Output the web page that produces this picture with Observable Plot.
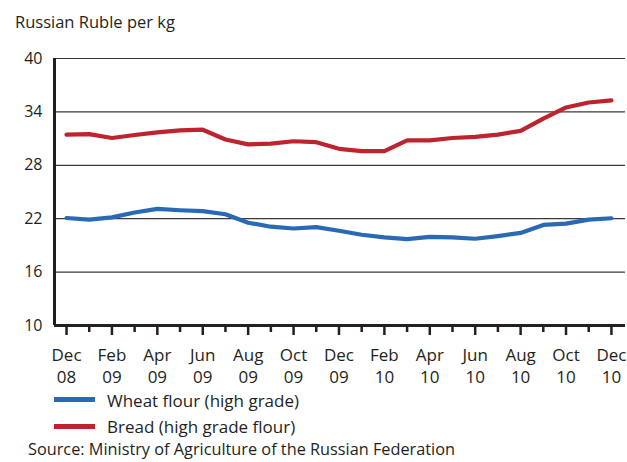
<!DOCTYPE html>
<html>
<head>
<meta charset="utf-8">
<script src="https://cdn.jsdelivr.net/npm/d3@7"></script>
<script src="https://cdn.jsdelivr.net/npm/@observablehq/plot@0.6"></script>
<style>
  body { margin: 0; background: #fff; }
  #wrap { position: relative; width: 627px; height: 462px; font-family: "Open Sans", sans-serif; color: #231f20; }
  .t { position: absolute; font-size: 17px; white-space: nowrap; line-height: 1; }
  .sw { position: absolute; width: 41px; height: 5px; }
  #chart { position: absolute; left: 0; top: 0; }
</style>
</head>
<body>
<div id="wrap">
  <div class="t" style="left:15px; top:14px; font-size:16.5px;">Russian Ruble per kg</div>
  <div id="chart"></div>
  <div class="sw" style="left:54px; top:397px; background:#2a6ab5;"></div>
  <div class="t" style="left:107px; top:392px;">Wheat flour (high grade)</div>
  <div class="sw" style="left:54px; top:423.5px; background:#be2430;"></div>
  <div class="t" style="left:107px; top:418px;">Bread (high grade flour)</div>
  <div class="t" style="left:28px; top:441px; font-size:16.3px;">Source: Ministry of Agriculture of the Russian Federation</div>
</div>
<script>
const months = ["Dec 08","Jan 09","Feb 09","Mar 09","Apr 09","May 09","Jun 09","Jul 09","Aug 09","Sep 09","Oct 09","Nov 09","Dec 09",
                "Jan 10","Feb 10","Mar 10","Apr 10","May 10","Jun 10","Jul 10","Aug 10","Sep 10","Oct 10","Nov 10","Dec 10"];
const wheat = [22.08,21.9,22.15,22.7,23.1,22.95,22.85,22.5,21.55,21.1,20.9,21.05,20.65,20.2,19.9,19.7,19.95,19.9,19.75,20.05,20.4,21.3,21.45,21.9,22.05];
const bread = [31.45,31.5,31.07,31.4,31.7,31.93,32.0,30.9,30.35,30.43,30.7,30.6,29.85,29.6,29.6,30.8,30.8,31.07,31.2,31.45,31.86,33.25,34.5,35.06,35.3];
const yTicks = [10,16,22,28,34,40];
const seriesNames = ["Wheat flour (high grade)", "Bread (high grade flour)"];
const seriesColors = ["#2a6ab5", "#be2430"];

const rows = [];
months.forEach((m, i) => {
  rows.push({i, month: m, series: seriesNames[0], value: wheat[i]});
  rows.push({i, month: m, series: seriesNames[1], value: bread[i]});
});
const idx = months.map((m, i) => i);
const majorIdx = idx.filter(i => i % 2 === 0);
const minorIdx = idx.filter(i => i % 2 === 1);
const label = i => months[i].replace(" ", "\n");

const chart = Plot.plot({
  width: 627,
  height: 388,
  marginLeft: 54,
  marginRight: 2,
  marginTop: 58,
  marginBottom: 63,
  style: {fontFamily: "Open Sans, sans-serif", fontSize: "16px", color: "#231f20", background: "transparent"},
  x: {domain: [-0.53, 24.62]},
  y: {domain: [10, 40]},
  color: {domain: seriesNames, range: seriesColors},
  marks: [
    Plot.ruleY(yTicks.filter(v => v > 10), {stroke: "#3a3a3a", strokeWidth: 1.2}),
    Plot.axisY({ticks: yTicks, tickSize: 0, tickPadding: 12, label: null, fontSize: 16}),
    Plot.axisX({ticks: minorIdx, tickSize: 7, tickFormat: () => "", label: null, strokeWidth: 2.5, stroke: "#231f20"}),
    Plot.axisX({ticks: majorIdx, tickSize: 10, tickPadding: 11, tickFormat: label, label: null, strokeWidth: 2.5, stroke: "#231f20", lineHeight: 1.24, fontSize: 17}),
    Plot.line(rows, {x: "i", y: "value", z: "series", stroke: "series", strokeWidth: 4.2}),
    Plot.ruleY([10], {stroke: "#231f20", strokeWidth: 3}),
    Plot.ruleX([-0.53], {stroke: "#231f20", strokeWidth: 3})
  ]
});
document.getElementById("chart").appendChild(chart);
</script>
</body>
</html>
